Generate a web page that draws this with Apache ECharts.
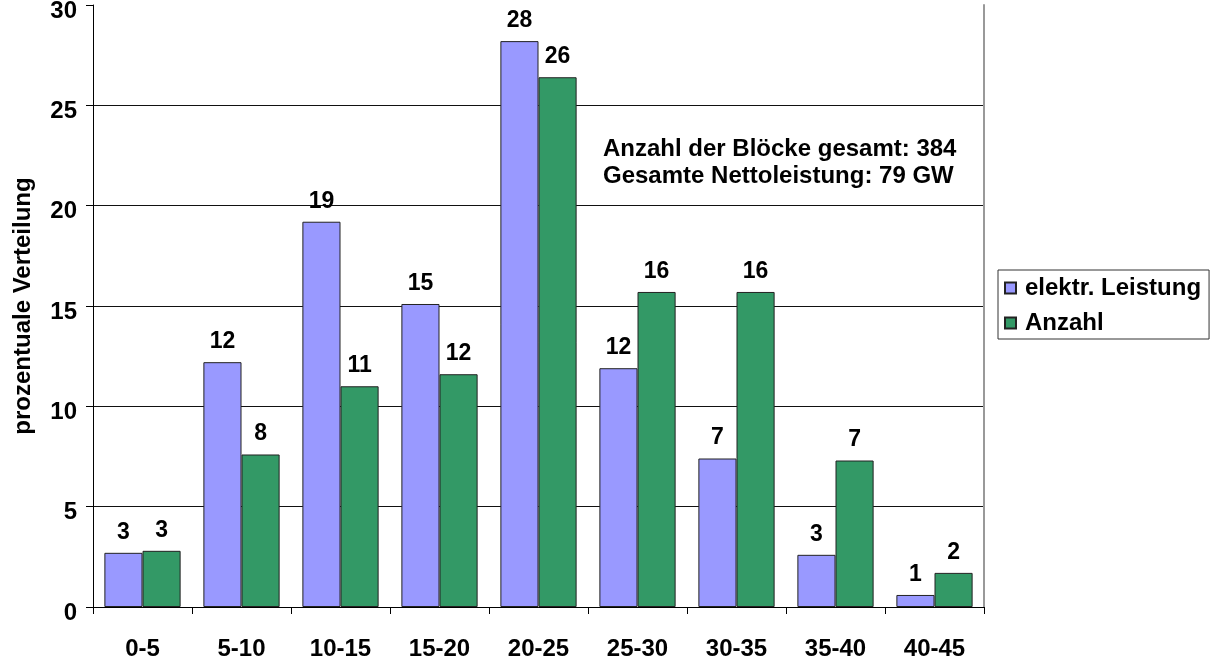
<!DOCTYPE html>
<html>
<head>
<meta charset="utf-8">
<script src="https://cdn.jsdelivr.net/npm/echarts@6/dist/echarts.min.js"></script>
<style>
	html, body { margin: 0; padding: 0; background: #fff; }
	#chart { width: 1213px; height: 659px; }
</style>
</head>
<body>
<div id="chart"></div>
<script>
let categories = ['0-5', '5-10', '10-15', '15-20', '20-25', '25-30', '30-35', '35-40', '40-45']
let leistung = [2.7, 12.2, 19.2, 15.1, 28.2, 11.9, 7.4, 2.6, 0.6] // elektr. Leistung
let anzahl = [2.8, 7.6, 11.0, 11.6, 26.4, 15.7, 15.7, 7.3, 1.7] // Anzahl
let yTicks = [0, 5, 10, 15, 20, 25, 30]

let font = 'Arial, "Liberation Sans", sans-serif'
let chart = echarts.init(document.getElementById('chart'))

let barLabel = {
	show: true,
	position: 'top',
	distance: 9,
	color: '#000',
	fontFamily: font,
	fontWeight: 'bold',
	fontSize: 23,
	formatter: function(p) {
		return Math.round(p.value)
	}
}

let option = {
	backgroundColor: '#fff',
	animation: false,
	grid: {
		left: 93,
		right: 229,
		top: 5,
		bottom: 52,
		outerBoundsMode: 'none'
	},
	legend: {
		orient: 'vertical',
		left: 998,
		top: 270,
		padding: [6, 8, 4, 6],
		itemGap: 11,
		itemWidth: 11,
		itemHeight: 11,
		icon: 'rect',
		borderColor: '#333',
		borderWidth: 1,
		textStyle: {
			color: '#000',
			fontFamily: font,
			fontWeight: 'bold',
			fontSize: 24,
			padding: [0, 0, 0, 4]
		},
		data: ['elektr. Leistung', 'Anzahl']
	},
	graphic: [{
		type: 'text',
		left: 603,
		top: 136,
		style: {
			text: 'Anzahl der Blöcke gesamt: 384\nGesamte Nettoleistung: 79 GW',
			font: 'bold 24px ' + font,
			lineHeight: 27,
			fill: '#000'
		}
	}],
	xAxis: {
		type: 'category',
		data: categories,
		axisLine: { lineStyle: { color: '#000', width: 1 } },
		axisTick: { show: true, length: 7, lineStyle: { color: '#000' } },
		axisLabel: {
			color: '#000',
			fontFamily: font,
			fontWeight: 'bold',
			fontSize: 24,
			margin: 30
		}
	},
	yAxis: [{
		type: 'value',
		min: 0,
		max: 30,
		interval: 5,
		name: 'prozentuale Verteilung',
		nameLocation: 'middle',
		nameGap: 58,
		nameTextStyle: {
			color: '#000',
			fontFamily: font,
			fontWeight: 'bold',
			fontSize: 24
		},
		axisLine: { show: true, lineStyle: { color: '#000', width: 1 } },
		axisTick: { show: true, length: 7, lineStyle: { color: '#000' } },
		splitLine: {
			show: true,
			lineStyle: {
				width: 1,
				// no line at the top (30)
				color: yTicks.map(v => v == 30 ? 'rgba(0,0,0,0)' : '#111')
			}
		},
		axisLabel: {
			margin: 16,
			formatter: '{a|{value}}',
			rich: {
				a: {
					color: '#000',
					fontFamily: font,
					fontWeight: 'bold',
					fontSize: 24,
					padding: [12, 0, 0, 0]
				}
			}
		}
	}, {
		type: 'value',
		position: 'right',
		min: 0,
		max: 30,
		interval: 5,
		axisLine: { show: true, lineStyle: { color: '#999', width: 2 } },
		axisTick: { show: false },
		axisLabel: { show: false },
		splitLine: { show: false }
	}],
	series: [{
		name: 'elektr. Leistung',
		type: 'bar',
		data: leistung,
		barGap: '0%',
		barCategoryGap: '23%',
		itemStyle: {
			color: '#9999ff',
			borderColor: '#222',
			borderWidth: 1
		},
		label: barLabel
	}, {
		name: 'Anzahl',
		type: 'bar',
		data: anzahl,
		barGap: '0%',
		barCategoryGap: '23%',
		itemStyle: {
			color: '#339966',
			borderColor: '#222',
			borderWidth: 1
		},
		label: barLabel
	}]
}

chart.setOption(option)
</script>
</body>
</html>
